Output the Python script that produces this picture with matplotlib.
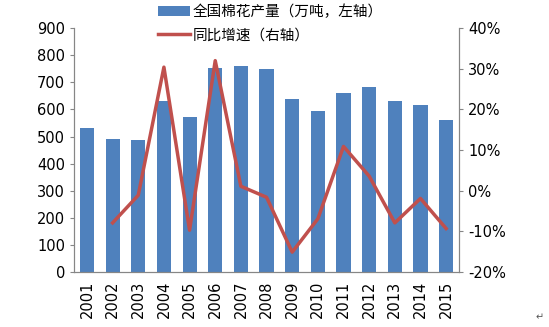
import matplotlib.pyplot as plt
import numpy as np

plt.rcParams['font.family'] = ['Noto Sans CJK SC', 'DejaVu Sans']

years = ['2001', '2002', '2003', '2004', '2005', '2006', '2007', '2008',
         '2009', '2010', '2011', '2012', '2013', '2014', '2015']
output = [532, 492, 486, 632, 571, 753, 760, 749, 638, 596, 660, 684, 630, 618, 561]
# 同比增速, %, 2001 has no value
growth = [np.nan, -7.9, -1.1, 30.4, -9.7, 32.0, 1.1, -1.6, -15.1, -6.9,
          10.9, 3.6, -7.9, -1.9, -9.3]

fig = plt.figure(figsize=(5.49, 3.27), dpi=100)
ax = fig.add_axes([0.135, 0.168, 0.701, 0.746])
ax2 = ax.twinx()

x = np.arange(len(years))
bars = ax.bar(x, output, width=0.55, color='#4F81BD', zorder=2,
              label='全国棉花产量（万吨，左轴）')
line, = ax2.plot(x, growth, color='#C0504D', lw=2.5, zorder=3,
                 label='同比增速（右轴）')

ax.set_xlim(-0.5, len(years) - 0.5)
ax.set_ylim(0, 900)
ax.set_yticks(range(0, 901, 100))
ax2.set_ylim(-20, 40)
ax2.set_yticks(range(-20, 41, 10))
ax2.set_yticklabels([f'{v}%' for v in range(-20, 41, 10)])

ax.set_xticks(x)
ax.set_xticklabels(years, rotation=90)

for a in (ax, ax2):
    a.spines['top'].set_visible(False)
    for s in ('left', 'right', 'bottom'):
        a.spines[s].set_color('#868686')
    a.tick_params(labelsize=10.5, colors='#868686', labelcolor='black', length=3)
    for t in a.get_xticklabels() + a.get_yticklabels():
        t.set_family('DejaVu Sans')
ax.tick_params(axis='x', length=0, pad=6)

fig.legend(handles=[bars, line], loc='upper left', bbox_to_anchor=(0.263, 1.025),
           frameon=False, fontsize=10.5, handlelength=2.2, handletextpad=0.2,
           labelspacing=0.6)

fig.text(0.975, 0.02, '↵', fontsize=7, color='#555555', family='DejaVu Sans')

fig.savefig('out.png', dpi=100)
